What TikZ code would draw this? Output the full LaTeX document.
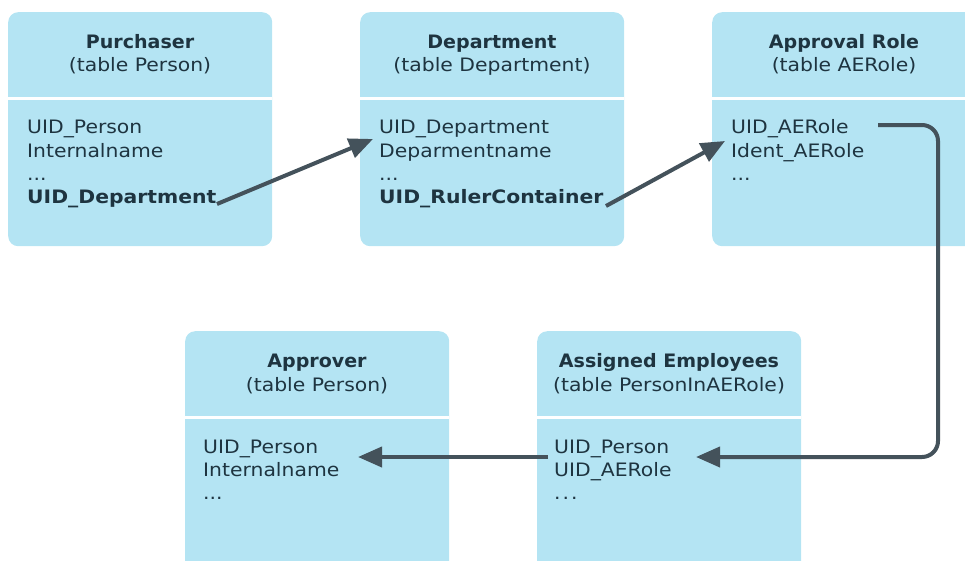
\documentclass[tikz,border=0pt]{standalone}
\usepackage{fontspec}
\setmainfont[FakeStretch=1.1]{DejaVu Sans}
\newfontfamily\ttlfont[FakeStretch=1.03]{DejaVu Sans}
\usetikzlibrary{arrows.meta}
\definecolor{boxfill}{HTML}{B4E4F3}
\definecolor{txt}{HTML}{1E3440}
\definecolor{arr}{HTML}{44525B}
\begin{document}
\begin{tikzpicture}[x=1pt,y=-1pt,
 tbl/.style={draw=none,fill=boxfill,rounded corners=10pt,minimum width=264pt,minimum height=234pt,anchor=north west,inner sep=0pt},
 tblb/.style={tbl,minimum height=260pt},
 ttl/.style={font=\ttlfont\fontsize{18.5}{22}\selectfont\bfseries,text=txt,anchor=base,inner sep=0pt},
 sub/.style={font=\fontsize{18.5}{22}\selectfont,text=txt,anchor=base,inner sep=0pt},
 fld/.style={font=\fontsize{18.5}{22}\selectfont,text=txt,anchor=base west,inner sep=0pt},
 bfld/.style={fld,font=\fontsize{18.5}{22}\selectfont\bfseries},
 sep/.style={draw=white,line width=3pt},
 link/.style={draw=arr,line width=4pt,rounded corners=16pt,-{Triangle[length=24pt,width=20pt]}}
]
\useasboundingbox (0,0) rectangle (965,560);
\clip (0,0) rectangle (965,560);
% boxes
\node[tbl] (purch) at (8,12) {};
\node[tbl] (dept) at (360,12) {};
\node[tbl] (aer) at (712,12) {};
\node[tblb] (appr) at (185,331) {};
\node[tblb] (asgn) at (537,331) {};
% separators
\foreach \b in {purch,dept,aer,appr,asgn}
  \draw[sep] ([yshift=-86pt]\b.north west) -- ([yshift=-86pt]\b.north east);
% Purchaser
\node[ttl] (pt) at (140,48) {Purchaser};
\node[sub] (ps) at (140,71) {(table Person)};
\node[fld] (p1) at (27,133) {UID\_Person};
\node[fld] (p2) at (27,157) {Internalname};
\node[fld] (p3) at (27,180) {...};
\node[bfld] (p4) at (27,203) {UID\_Department};
% Department
\node[ttl] (dt) at (492,48) {Department};
\node[sub] (ds) at (492,71) {(table Department)};
\node[fld] (d1) at (379,133) {UID\_Department};
\node[fld] (d2) at (379,157) {Deparmentname};
\node[fld] (d3) at (379,180) {...};
\node[bfld] (d4) at (379,203) {UID\_RulerContainer};
% Approval Role
\node[ttl] (at) at (844,48) {Approval Role};
\node[sub] (as) at (844,71) {(table AERole)};
\node[fld] (a1) at (731,133) {UID\_AERole};
\node[fld] (a2) at (731,157) {Ident\_AERole};
\node[fld] (a3) at (731,180) {...};
% Approver
\node[ttl] (rt) at (317,367) {Approver};
\node[sub] (rs) at (317,391) {(table Person)};
\node[fld] (r1) at (203,453) {UID\_Person};
\node[fld] (r2) at (203,476) {Internalname};
\node[fld] (r3) at (203,499) {...};
% Assigned Employees
\node[ttl] (et) at (669,367) {Assigned Employees};
\node[sub] (es) at (669,391) {(table PersonInAERole)};
\node[fld] (e1) at (554,453) {UID\_Person};
\node[fld] (e2) at (554,476) {UID\_AERole};
\node[fld] (e3) at (554,499) {.\kern2pt.\kern2pt.};
% connector ends
\coordinate (c1s) at (217,204);
\coordinate (c1e) at (373,139);
\coordinate (c2s) at (606,206);
\coordinate (c2e) at (725,141);
\coordinate (c3s) at (878,125);
\coordinate (c3r) at (938,125);
\coordinate (c3e) at (696,457);
\coordinate (c4s) at (548,457);
\coordinate (c4e) at (358,457);
% connectors
\draw[link] (c1s) -- (c1e);
\draw[link] (c2s) -- (c2e);
\draw[link] (c3s) -- (c3r) -- (c3r |- c3e) -- (c3e);
\draw[link] (c4s) -- (c4e);
\end{tikzpicture}
\end{document}
